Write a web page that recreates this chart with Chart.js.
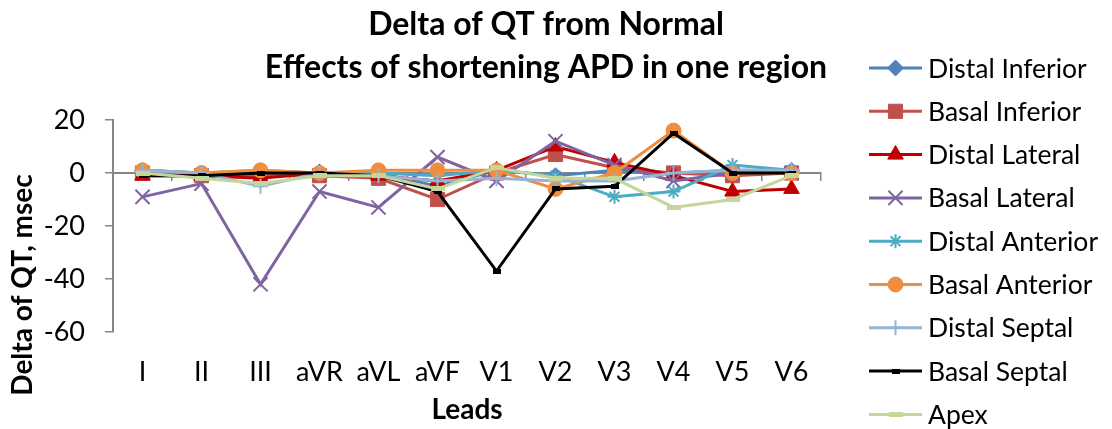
<!DOCTYPE html>
<html>
<head>
<meta charset="utf-8">
<title>Delta of QT from Normal</title>
<script src="https://cdn.jsdelivr.net/npm/chart.js@4.4.1/dist/chart.umd.min.js"></script>
<style>
  html, body { margin: 0; padding: 0; background: #fff; }
  #wrap { width: 1112px; height: 429px; }
</style>
</head>
<body>
<div id="wrap"><canvas id="qtChart" width="1112" height="429"></canvas></div>
<script>
// ECG leads on the category axis
const leads = ['I', 'II', 'III', 'aVR', 'aVL', 'aVF', 'V1', 'V2', 'V3', 'V4', 'V5', 'V6'];

// Delta of QT (msec) per region where APD was shortened
const distalInferior = [1, 0, -1, 0, 0, -5, 1, -1, 1, 0, 1, 1];
const basalInferior = [0, -1, -1, -1, -2, -10, 0, 7, 2, 0, -1, 0];
const distalLateral = [-1, -1, -2, 0, -1, -3, 1, 10, 4, -1, -7, -6];
const basalLateral = [-9, -4, -42, -7, -13, 6, -3, 12, 3, -3, 0, 0];
const distalAnterior = [1, 0, 1, 0, 0, -1, 1, -1, -9, -7, 3, 1];
const basalAnterior = [1, 0, 1, 0, 1, 1, 1, -6, 0, 16, 0, 0];
const distalSeptal = [1, 0, -5, 0, -1, -3, -2, -3, -3, 0, 1, 1];
const basalSeptal = [-1, -1, 0, 0, -1, -7, -37, -6, -5, 15, 0, 0];
const apex = [0, -2, -4, -1, -1, -6, 2, -2, -2, -13, -10, -1];

const yTicks = [20, 0, -20, -40, -60];

const FONT = 'Lato, "Open Sans", sans-serif';
const AXIS_GREY = '#868686';

// flat bar markers (Excel "dash" style)
function barMarker(w, h, color) {
  const c = document.createElement('canvas');
  c.width = w;
  c.height = h;
  const g = c.getContext('2d');
  g.fillStyle = color;
  g.fillRect(0, 0, w, h);
  return c;
}

function series(label, data, color, pointStyle, radius, filled, pointBorderWidth) {
  return {
    label,
    data,
    borderColor: color,
    backgroundColor: color,
    borderWidth: 3,
    tension: 0,
    pointStyle,
    pointRadius: radius,
    pointHoverRadius: radius,
    pointBackgroundColor: filled ? color : 'rgba(0,0,0,0)',
    pointBorderColor: color,
    pointBorderWidth: pointBorderWidth,
  };
}

const datasets = [
  series('Distal Inferior', distalInferior, '#4F81BD', 'rectRot', 8, true, 1),
  series('Basal Inferior', basalInferior, '#C0504D', 'rect', 10, true, 1),
  series('Distal Lateral', distalLateral, '#C00000', 'triangle', 9, true, 1),
  series('Basal Lateral', basalLateral, '#8064A2', 'crossRot', 10, false, 2),
  series('Distal Anterior', distalAnterior, '#4BACC6', 'star', 7, false, 2),
  series('Basal Anterior', basalAnterior, '#F08D3E', 'circle', 7.5, true, 1),
  series('Distal Septal', distalSeptal, '#95B3D7', 'cross', 7.5, false, 2),
  series('Basal Septal', basalSeptal, '#000000', barMarker(8, 5, '#000000'), 4, true, 0),
  series('Apex', apex, '#C3D69B', barMarker(14, 5, '#C3D69B'), 7, true, 0),
];
// later series are painted over earlier ones
datasets.forEach((ds, i) => { ds.order = datasets.length - 1 - i; });

// title, rotated y title and the right-hand legend
const decorations = {
  id: 'decorations',
  afterDraw(chart) {
    const { ctx } = chart;
    ctx.save();
    ctx.fillStyle = '#000';
    ctx.textAlign = 'center';
    ctx.textBaseline = 'middle';
    ctx.font = `bold 32px ${FONT}`;
    ctx.fillText('Delta of QT from Normal', 546, 25);
    ctx.fillText('Effects of shortening APD in one region', 546, 68);

    ctx.save();
    ctx.translate(23, 285);
    ctx.rotate(-Math.PI / 2);
    ctx.font = `bold 28px ${FONT}`;
    ctx.fillText('Delta of QT, msec', 0, 0);
    ctx.restore();

    const x0 = 869;
    const x1 = 922;
    const mid = (x0 + x1) / 2;
    ctx.textAlign = 'left';
    ctx.font = `26.5px ${FONT}`;
    chart.data.datasets.forEach((ds, i) => {
      const y = 68 + i * 43.3;
      ctx.strokeStyle = ds.borderColor;
      ctx.lineWidth = 3;
      ctx.beginPath();
      ctx.moveTo(x0, y);
      ctx.lineTo(x1, y);
      ctx.stroke();
      ctx.fillStyle = ds.pointBackgroundColor;
      ctx.strokeStyle = ds.pointBorderColor;
      ctx.lineWidth = ds.pointBorderWidth;
      Chart.helpers.drawPoint(ctx, {
        pointStyle: ds.pointStyle,
        radius: ds.pointRadius,
        rotation: 0,
        borderWidth: ds.pointBorderWidth,
      }, mid, y);
      ctx.fillStyle = '#000';
      ctx.fillText(ds.label, 928, y + 1);
    });
    ctx.restore();
  },
};

new Chart(document.getElementById('qtChart'), {
  type: 'line',
  data: { labels: leads, datasets },
  options: {
    responsive: false,
    animation: false,
    layout: { padding: { top: 120, right: 291, left: 0, bottom: 0 } },
    plugins: {
      legend: { display: false },
      title: { display: false },
      tooltip: { enabled: false },
    },
    scales: {
      x: {
        type: 'category',
        offset: true,
        grid: { display: false, drawTicks: false },
        border: { display: false },
        ticks: { color: '#000', padding: 24, font: { family: FONT, size: 27 }, maxRotation: 0 },
        title: {
          display: true,
          text: 'Leads',
          color: '#000',
          font: { family: FONT, size: 28, weight: 'bold' },
          padding: { top: 0, bottom: 2 },
        },
        afterFit(scale) { scale.height = 97; },
      },
      // category axis crossing at zero, ticks between leads
      xZero: {
        type: 'category',
        labels: leads,
        position: { y: 0 },
        offset: true,
        grid: {
          offset: true,
          drawOnChartArea: false,
          drawTicks: true,
          tickLength: 7,
          color: AXIS_GREY,
          lineWidth: 1.5,
        },
        border: { display: true, color: AXIS_GREY, width: 2 },
        ticks: { display: false },
      },
      y: {
        min: -60,
        max: 20,
        afterBuildTicks(scale) { scale.ticks = yTicks.map((value) => ({ value })); },
        grid: {
          drawOnChartArea: false,
          drawTicks: true,
          tickLength: 8,
          color: AXIS_GREY,
          lineWidth: 1.5,
        },
        border: { display: true, color: AXIS_GREY, width: 2 },
        ticks: { color: '#000', padding: 20, font: { family: FONT, size: 27 } },
        afterFit(scale) { scale.width = 113; },
      },
    },
  },
  plugins: [decorations],
});
</script>
</body>
</html>
